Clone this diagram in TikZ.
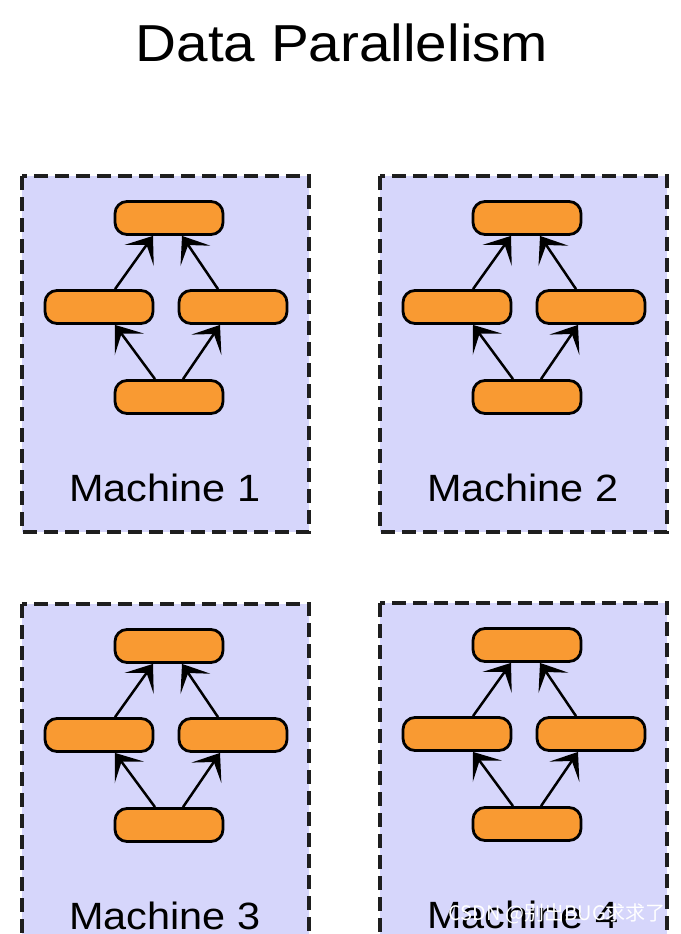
\documentclass[tikz,border=0pt]{standalone}
\usepackage{fontspec}
\setmainfont{Liberation Sans}
\newfontfamily\labelfont[FakeStretch=1.09]{Liberation Sans}
\newfontfamily\cjkfont{Noto Sans CJK SC}
\usetikzlibrary{arrows.meta,calc}

\definecolor{machinefill}{RGB}{214,214,251}
\definecolor{opfill}{RGB}{249,154,50}
\definecolor{framegray}{RGB}{30,30,30}

\tikzset{
  machinebox/.style={draw=framegray, fill=machinefill, line width=3.4pt,
    dash pattern=on 14pt off 7pt},
  opnode/.style={draw=black, fill=opfill, line width=2.8pt, rounded corners=12pt,
    minimum width=108pt, minimum height=33pt, inner sep=0pt},
  flow/.style={draw=black, line width=2.5pt,
    -{Stealth[length=24pt, width=36pt, inset=13pt]}},
  machinelabel/.style={font=\labelfont\fontsize{38}{41}\selectfont, anchor=base,
    inner sep=0pt, text=black},
}

% one machine: box corner (#1,#2), label #3, name prefix #4
\newcommand{\machine}[4]{%
  \path[machinebox] (#1,#2) rectangle ++(287,356);
  \node[opnode] (#4t) at ($(#1,#2)+(147,42)$) {};
  \node[opnode] (#4l) at ($(#1,#2)+(77,131)$) {};
  \node[opnode] (#4r) at ($(#1,#2)+(211,131)$) {};
  \node[opnode] (#4b) at ($(#1,#2)+(147,221)$) {};
  \node[machinelabel] (#4lab) at ($(#1,#2)+(143,325)$) {#3};
  \draw[flow] ([xshift=16pt]#4l.north) -- ([xshift=-16pt]#4t.south);
  \draw[flow] ([xshift=-15pt]#4r.north) -- ([xshift=13pt]#4t.south);
  \draw[flow] ([xshift=-14pt]#4b.north) -- ([xshift=16pt]#4l.south);
  \draw[flow] ([xshift=14pt]#4b.north) -- ([xshift=-13pt]#4r.south);
}

\begin{document}
\begin{tikzpicture}[x=1pt, y=-1pt]
  \useasboundingbox (0,0) rectangle (680,934);
  \fill[white] (0,0) rectangle (680,934);
  \clip (0,0) rectangle (680,934);

  \node[font=\labelfont\fontsize{52}{56}\selectfont, anchor=base, inner sep=0pt]
    (title) at (342,62) {Data Parallelism};

  \machine{22}{176}{Machine 1}{m1}
  \machine{380}{176}{Machine 2}{m2}
  \machine{22}{604}{Machine 3}{m3}
  \machine{380}{603}{Machine 4}{m4}

  \node[font=\cjkfont\fontsize{20}{22}\selectfont, text=white, anchor=base east,
    inner sep=0pt] (mark) at (666,920) {CSDN @别出BUG求求了};
\end{tikzpicture}
\end{document}
